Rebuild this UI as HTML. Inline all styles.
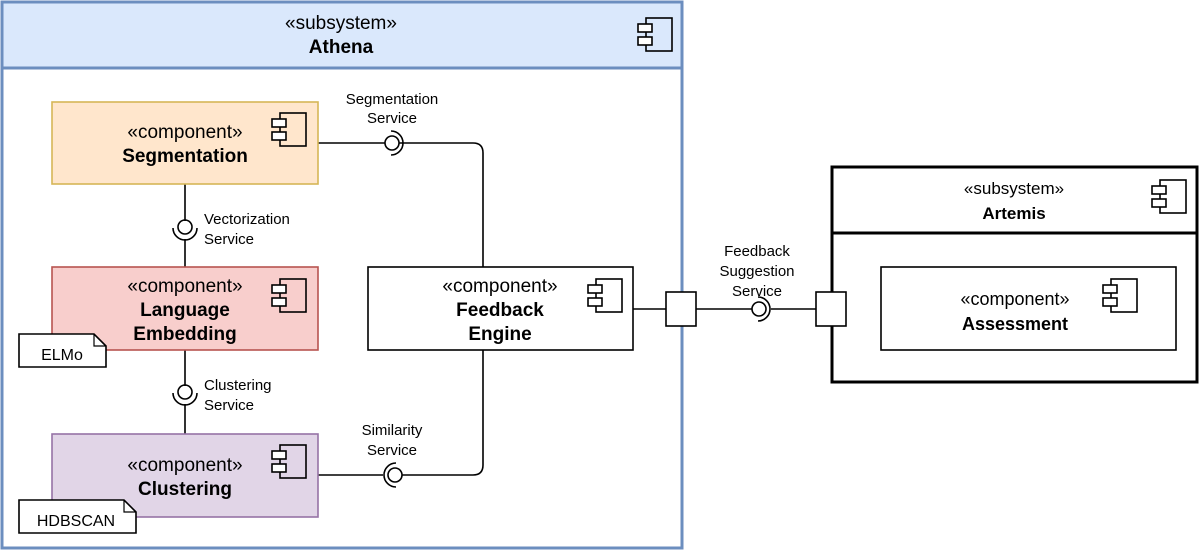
<!DOCTYPE html>
<html><head><meta charset="utf-8"><style>
html,body{margin:0;padding:0;background:#fff;width:1200px;height:556px;overflow:hidden}
svg text{font-family:"Liberation Sans",Arial,sans-serif;fill:#000}
</style></head><body>
<svg width="1200" height="556" viewBox="0 0 1200 556" xmlns="http://www.w3.org/2000/svg">
<defs>
<g id="ic"><rect x="8" y="0" width="26" height="33" fill="none" stroke="#000" stroke-width="1.6"/><rect x="0" y="6" width="14" height="8" fill="#fff" stroke="#000" stroke-width="1.6"/><rect x="0" y="19" width="14" height="8" fill="#fff" stroke="#000" stroke-width="1.6"/></g>
</defs>
<rect x="2" y="2" width="680" height="546" fill="#fff" stroke="#6c8ebf" stroke-width="3"/>
<rect x="2" y="2" width="680" height="66" fill="#dae8fc" stroke="#6c8ebf" stroke-width="3"/>
<text x="341" y="29" font-size="19" text-anchor="middle">«subsystem»</text>
<text x="341" y="53" font-size="19" font-weight="bold" text-anchor="middle">Athena</text>
<use href="#ic" x="638" y="18"/>
<g fill="none" stroke="#000" stroke-width="1.6">
<path d="M318 143 H385"/><path d="M399 143 H473 Q483 143 483 153 V267"/>
<path d="M318 475 H383"/><path d="M402 475 H473 Q483 475 483 465 V350"/>
<path d="M185 184 V221"/><path d="M185 239 V267"/>
<path d="M185 350 V386"/><path d="M185 404 V434"/>
<path d="M633 309 H666"/><path d="M696 309 H752"/><path d="M771 309 H816"/><path d="M846 309 H881"/>
<circle cx="392" cy="143" r="7"/><path d="M391 131 A12 12 0 0 1 391 155"/>
<circle cx="395" cy="475" r="7"/><path d="M396 463 A12 12 0 0 0 396 487"/>
<circle cx="185" cy="227" r="7"/><path d="M173 228 A12 12 0 0 0 197 228"/>
<circle cx="185" cy="392" r="7"/><path d="M173 393 A12 12 0 0 0 197 393"/>
<circle cx="759" cy="309" r="7"/><path d="M758 297 A12 12 0 0 1 758 321"/>
</g>
<text x="392" y="104" font-size="15" text-anchor="middle">Segmentation</text>
<text x="392" y="123" font-size="15" text-anchor="middle">Service</text>
<text x="204" y="224" font-size="15">Vectorization</text>
<text x="204" y="244" font-size="15">Service</text>
<text x="204" y="390" font-size="15">Clustering</text>
<text x="204" y="410" font-size="15">Service</text>
<text x="392" y="435" font-size="15" text-anchor="middle">Similarity</text>
<text x="392" y="455" font-size="15" text-anchor="middle">Service</text>
<text x="757" y="256" font-size="15" text-anchor="middle">Feedback</text>
<text x="757" y="276" font-size="15" text-anchor="middle">Suggestion</text>
<text x="757" y="296" font-size="15" text-anchor="middle">Service</text>
<rect x="52" y="102" width="266" height="82" fill="#ffe6cc" stroke="#d6b656" stroke-width="1.6"/>
<text x="185" y="138" font-size="19" text-anchor="middle">«component»</text>
<text x="185" y="162" font-size="19" font-weight="bold" text-anchor="middle">Segmentation</text>
<use href="#ic" x="272" y="113"/>
<rect x="52" y="267" width="266" height="83" fill="#f8cecc" stroke="#b85450" stroke-width="1.6"/>
<text x="185" y="292" font-size="19" text-anchor="middle">«component»</text>
<text x="185" y="316" font-size="19" font-weight="bold" text-anchor="middle">Language</text>
<text x="185" y="340" font-size="19" font-weight="bold" text-anchor="middle">Embedding</text>
<use href="#ic" x="272" y="279"/>
<rect x="52" y="434" width="266" height="83" fill="#e1d5e7" stroke="#9673a6" stroke-width="1.6"/>
<text x="185" y="471" font-size="19" text-anchor="middle">«component»</text>
<text x="185" y="495" font-size="19" font-weight="bold" text-anchor="middle">Clustering</text>
<use href="#ic" x="272" y="445"/>
<rect x="368" y="267" width="265" height="83" fill="#fff" stroke="#000" stroke-width="1.6"/>
<text x="500" y="292" font-size="19" text-anchor="middle">«component»</text>
<text x="500" y="316" font-size="19" font-weight="bold" text-anchor="middle">Feedback</text>
<text x="500" y="340" font-size="19" font-weight="bold" text-anchor="middle">Engine</text>
<use href="#ic" x="588" y="279"/>
<path d="M19 334 H94 L106 346 V367 H19 Z" fill="#fff" stroke="#000" stroke-width="1.6"/><path d="M94 334 V346 H106" fill="none" stroke="#000" stroke-width="1.2"/>
<text x="62" y="360" font-size="16" text-anchor="middle">ELMo</text>
<path d="M19 500 H124 L136 512 V533 H19 Z" fill="#fff" stroke="#000" stroke-width="1.6"/><path d="M124 500 V512 H136" fill="none" stroke="#000" stroke-width="1.2"/>
<text x="76" y="526" font-size="16" text-anchor="middle">HDBSCAN</text>
<rect x="832" y="167" width="365" height="215" fill="#fff" stroke="#000" stroke-width="3"/>
<line x1="832" y1="233" x2="1197" y2="233" stroke="#000" stroke-width="3"/>
<text x="1014" y="194" font-size="17" text-anchor="middle">«subsystem»</text>
<text x="1014" y="219" font-size="17" font-weight="bold" text-anchor="middle">Artemis</text>
<use href="#ic" x="1152" y="180"/>
<rect x="881" y="267" width="295" height="83" fill="#fff" stroke="#000" stroke-width="1.6"/>
<text x="1015" y="305" font-size="18" text-anchor="middle">«component»</text>
<text x="1015" y="330" font-size="18" font-weight="bold" text-anchor="middle">Assessment</text>
<use href="#ic" x="1103" y="279"/>
<rect x="666" y="292" width="30" height="34" fill="#fff" stroke="#000" stroke-width="1.6"/>
<rect x="816" y="292" width="30" height="34" fill="#fff" stroke="#000" stroke-width="1.6"/>
</svg>
</body></html>
